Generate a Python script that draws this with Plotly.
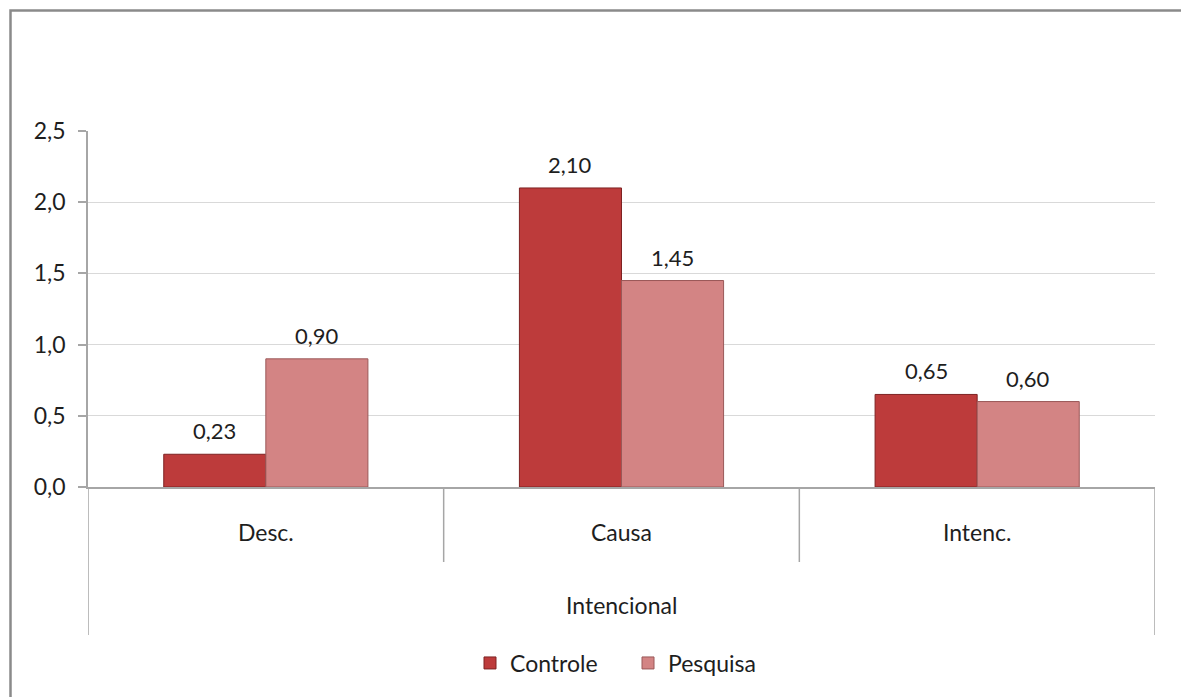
import plotly.graph_objects as go

categories = ["Desc.", "Causa", "Intenc."]
group_label = "Intencional"
controle = [0.23, 2.10, 0.65]
pesquisa = [0.90, 1.45, 0.60]
series_names = ["Controle", "Pesquisa"]
y_ticks = [0.0, 0.5, 1.0, 1.5, 2.0, 2.5]

W, H = 1181, 697
L, R, T, B = 88, 26, 131, 210
pw, ph = W - L - R, H - T - B

def px_x(px):
    return (px - L) / pw

def px_y(py):
    return (H - B - py) / ph

FONT = "Lato"
GRAY = "#a6a6a6"
TXT = "#1e1e1e"
FS = 23
BARGAP = 0.426
half_bar = (1 - BARGAP) / 4  # offset of each bar centre from category centre (data units)

fig = go.Figure()
colors = [("#bd3b3b", "#7e2222"), ("#d38484", "#9a5858")]
for name, vals, (fc, lc) in zip(series_names, [controle, pesquisa], colors):
    fig.add_trace(go.Bar(
        name=name, x=categories, y=vals,
        marker=dict(color=fc, line=dict(color=lc, width=1)),
    ))

annotations = []
for k, vals in enumerate([controle, pesquisa]):
    off = -half_bar if k == 0 else half_bar
    for i, v in enumerate(vals):
        annotations.append(dict(
            x=i + off, y=v, xref="x", yref="y", text=f"{v:.2f}".replace(".", ","),
            showarrow=False, yanchor="bottom", yshift=8,
            font=dict(family=FONT, size=22, color=TXT)))
annotations.append(dict(text=group_label, xref="paper", yref="paper",
                        x=0.5, y=px_y(605), yanchor="middle", showarrow=False,
                        font=dict(family=FONT, size=FS, color=TXT)))

shapes = []
for xb in [0.5, 1.5]:
    shapes.append(dict(type="line", xref="x", yref="paper", x0=xb, x1=xb,
                       y0=0, y1=px_y(562), line=dict(color=GRAY, width=1.5)))
for xb in [-0.5, 2.5]:
    shapes.append(dict(type="line", xref="x", yref="paper", x0=xb, x1=xb,
                       y0=0, y1=px_y(635), line=dict(color=GRAY, width=1.5)))
shapes.append(dict(type="rect", xref="paper", yref="paper",
                   x0=px_x(10.5), x1=px_x(1200), y0=px_y(10.5), y1=px_y(720),
                   line=dict(color="#8a8a8a", width=2.5), fillcolor="rgba(0,0,0,0)"))

fig.update_layout(
    width=W, height=H,
    margin=dict(l=L, r=R, t=T, b=B),
    paper_bgcolor="white", plot_bgcolor="white",
    separators=",.",
    barmode="group", bargap=BARGAP, bargroupgap=0,
    font=dict(family=FONT, size=FS, color=TXT),
    shapes=shapes,
    annotations=annotations,
    showlegend=True,
    legend=dict(orientation="h", x=px_x(628), xanchor="center",
                y=px_y(663), yanchor="middle",
                font=dict(family=FONT, size=FS, color=TXT),
                itemwidth=30, entrywidth=113, traceorder="normal"),
)
fig.update_xaxes(
    type="category", range=[-0.5, 2.5],
    showline=True, linecolor=GRAY, linewidth=1.5,
    ticks="", showgrid=False, ticklabelstandoff=25,
    tickfont=dict(family=FONT, size=FS, color=TXT),
)
fig.update_yaxes(
    range=[0, 2.5], tickvals=y_ticks, tickformat=".1f",
    showline=True, linecolor=GRAY, linewidth=1.5,
    ticks="outside", ticklen=8, tickcolor=GRAY, tickwidth=1.5,
    ticklabelstandoff=8,
    showgrid=True, gridcolor="#d9d9d9", gridwidth=1,
    zeroline=False,
    tickfont=dict(family=FONT, size=FS, color=TXT),
)

fig.write_html("out.html")
